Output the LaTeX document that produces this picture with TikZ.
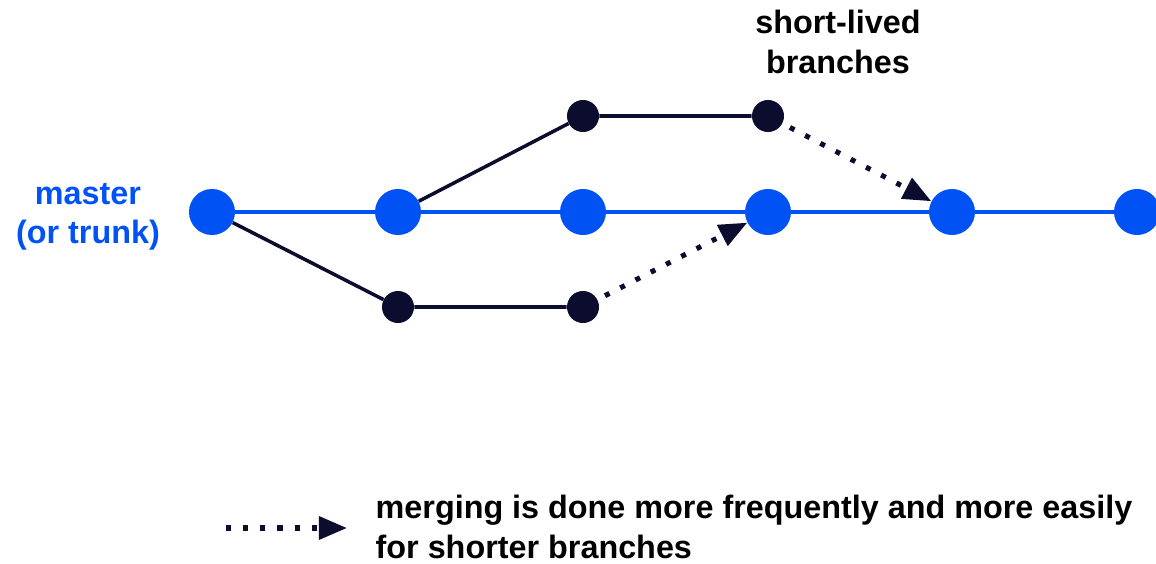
\documentclass[tikz,border=0pt]{standalone}
\usepackage{fontspec}
\setmainfont{Liberation Sans}
\usetikzlibrary{arrows.meta}
\definecolor{trunkblue}{RGB}{0,82,245}
\definecolor{branchnavy}{RGB}{12,12,46}
\begin{document}
\begin{tikzpicture}[x=0.025cm,y=-0.025cm,
    font=\bfseries\fontsize{23}{28}\selectfont,
    commit/.style={circle,fill=trunkblue,inner sep=0pt,minimum size=1.15cm},
    bcommit/.style={circle,fill=branchnavy,inner sep=0pt,minimum size=0.8cm},
    trunk/.style={trunkblue,line width=2.8pt},
    branch/.style={branchnavy,line width=2.5pt},
    merge/.style={branchnavy,line width=3.6pt,dash pattern=on 3.6pt off 8.6pt,
        -{Triangle[length=20pt,width=16pt]},shorten <=6pt}]
    \useasboundingbox (0,0) rectangle (1156,564);
    % master commits
    \node[commit] (m1) at (212,212) {};
    \node[commit] (m2) at (398,212) {};
    \node[commit] (m3) at (583,212) {};
    \node[commit] (m4) at (768,212) {};
    \node[commit] (m5) at (952,212) {};
    \node[commit] (m6) at (1137,212) {};
    % branch commits
    \node[bcommit] (t1) at (583,116) {};
    \node[bcommit] (t2) at (768,116) {};
    \node[bcommit] (b1) at (398,307) {};
    \node[bcommit] (b2) at (583,307) {};
    \draw[trunk] (m1) -- (m2) -- (m3) -- (m4) -- (m5) -- (m6);
    \draw[branch] (m1) -- (b1) -- (b2);
    \draw[branch] (m2) -- (t1) -- (t2);
    \draw[merge] (t2) -- (m5);
    \draw[merge] (b2) -- (m4);
    % labels
    \node[text=trunkblue,align=center] (lmaster) at (88,217) {master\\(or trunk)};
    \node[text=black,align=center] (lshort) at (838,42) {short-lived\\branches};
    % legend
    \coordinate (ls) at (226,528);
    \coordinate (le) at (347,528);
    \draw[merge,shorten <=0pt] (ls) -- (le);
    \node[anchor=west,align=left,text=black,inner sep=1pt] (ltext) at (374,527) {merging is done more frequently and more easily\\for shorter branches};
\end{tikzpicture}
\end{document}
